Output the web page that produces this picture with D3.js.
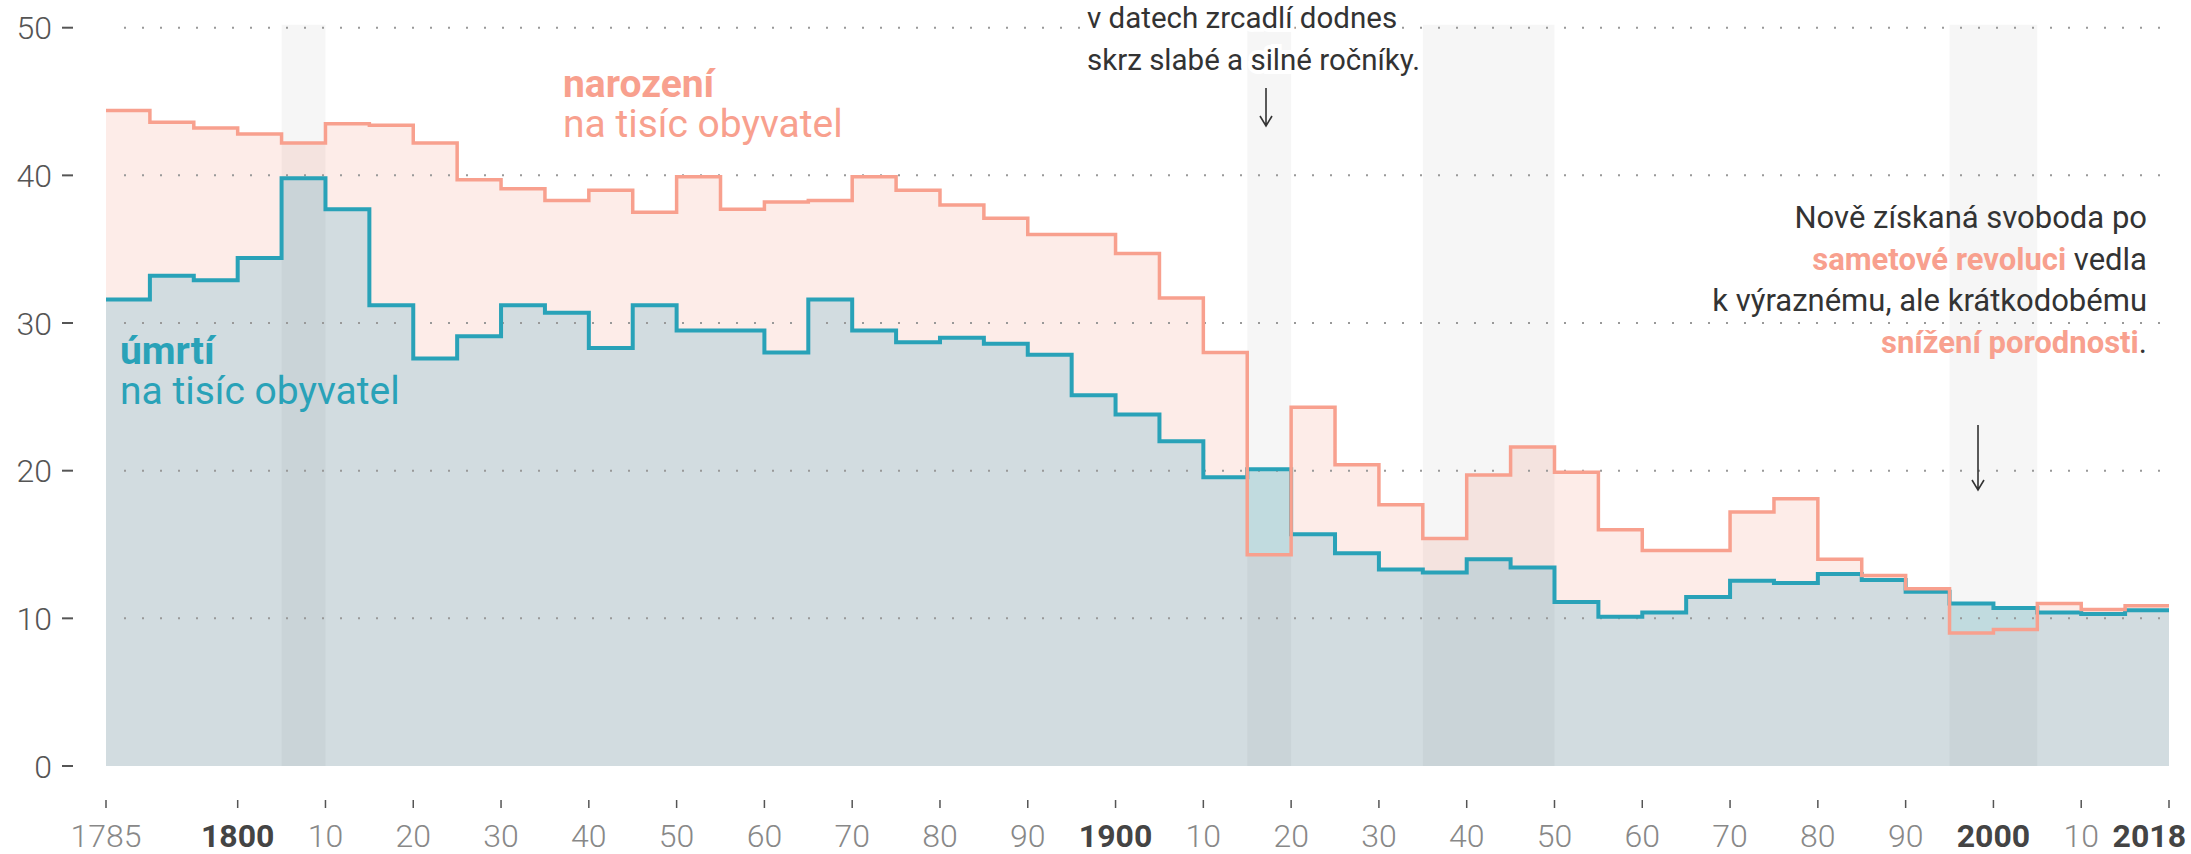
<!DOCTYPE html>
<html>
<head>
<meta charset="utf-8">
<script src="https://cdn.jsdelivr.net/npm/d3@7/dist/d3.min.js"></script>
<style>
  body { margin: 0; background: #fff; }
  svg { display: block; font-family: Roboto, "Open Sans", sans-serif; }
</style>
</head>
<body>
<svg width="2191" height="854"></svg>
<script>
// five-year periods, start year of each
var years = [1785, 1790, 1795, 1800, 1805, 1810, 1815, 1820, 1825, 1830,
             1835, 1840, 1845, 1850, 1855, 1860, 1865, 1870, 1875, 1880,
             1885, 1890, 1895, 1900, 1905, 1910, 1915, 1920, 1925, 1930,
             1935, 1940, 1945, 1950, 1955, 1960, 1965, 1970, 1975, 1980,
             1985, 1990, 1995, 2000, 2005, 2010, 2015];

// narození na tisíc obyvatel
var births = [44.4, 43.6, 43.2, 42.8, 42.2, 43.5, 43.4, 42.2, 39.7, 39.1,
              38.3, 39.0, 37.5, 39.9, 37.7, 38.2, 38.3, 39.9, 39.0, 38.0,
              37.1, 36.0, 36.0, 34.7, 31.7, 28.0, 14.3, 24.3, 20.4, 17.7,
              15.4, 19.7, 21.6, 19.9, 16.0, 14.6, 14.6, 17.2, 18.1, 14.0,
              12.9, 12.0, 9.0, 9.25, 11.0, 10.6, 10.85];

// úmrtí na tisíc obyvatel
var deaths = [31.6, 33.2, 32.9, 34.4, 39.8, 37.7, 31.2, 27.6, 29.1, 31.2,
              30.7, 28.3, 31.2, 29.5, 29.5, 28.0, 31.6, 29.5, 28.7, 29.0,
              28.6, 27.85, 25.1, 23.8, 22.0, 19.55, 20.1, 15.7, 14.4, 13.3,
              13.1, 14.0, 13.45, 11.1, 10.1, 10.4, 11.45, 12.55, 12.4, 13.0,
              12.6, 11.8, 11.0, 10.7, 10.4, 10.3, 10.55];

// highlighted periods (gray bands)
var bands = [[1805, 1810], [1915, 1920], [1935, 1950], [1995, 2005]];

var yTicks = [0, 10, 20, 30, 40, 50];
var gridTicks = [10, 20, 30, 40, 50];
var xTicks = [1785, 1800, 1810, 1820, 1830, 1840, 1850, 1860, 1870, 1880, 1890,
              1900, 1910, 1920, 1930, 1940, 1950, 1960, 1970, 1980, 1990,
              2000, 2010, 2020];
var xTickLabels = ["1785", "1800", "10", "20", "30", "40", "50", "60", "70", "80", "90",
                   "1900", "10", "20", "30", "40", "50", "60", "70", "80", "90",
                   "2000", "10", "2018"];
var boldLabels = ["1800", "1900", "2000", "2018"];

var salmon = "#f8a08e",
    teal = "#29a2b8";

var svg = d3.select("svg");
var endYear = years[years.length - 1] + 5;

var x = d3.scaleLinear().domain([years[0], endYear]).range([106, 2169]);
var y = d3.scaleLinear().domain([0, 50]).range([766, 27.7]);

var rows = years.map(function(yr, i) {
    return { year: yr, b: births[i], d: deaths[i] };
});
// closing point so the last step gets its width
rows.push({ year: endYear, b: births[births.length - 1], d: deaths[deaths.length - 1] });

function areaOf(acc) {
    return d3.area()
        .curve(d3.curveStepAfter)
        .x(function(d) { return x(d.year); })
        .y0(y(0))
        .y1(function(d) { return y(acc(d)); });
}
function lineOf(acc) {
    return d3.line()
        .curve(d3.curveStepAfter)
        .x(function(d) { return x(d.year); })
        .y(function(d) { return y(acc(d)); });
}

var g = svg.append("g");

g.append("path").datum(rows)
    .attr("d", areaOf(function(d) { return d.b; }))
    .attr("fill", "#fdece8");
g.append("path").datum(rows)
    .attr("d", areaOf(function(d) { return d.d; }))
    .attr("fill", "#c9e3e8");
g.append("path").datum(rows)
    .attr("d", areaOf(function(d) { return Math.min(d.b, d.d); }))
    .attr("fill", "#d2dce0");

// gray bands
g.selectAll("rect.band")
    .data(bands)
    .enter().append("rect")
    .attr("class", "band")
    .attr("x", function(d) { return x(d[0]); })
    .attr("width", function(d) { return x(d[1]) - x(d[0]); })
    .attr("y", y(50) - 3)
    .attr("height", y(0) - y(50) + 3)
    .attr("fill", "#000")
    .attr("fill-opacity", 0.035);

// dotted grid
g.selectAll("line.grid")
    .data(gridTicks)
    .enter().append("line")
    .attr("class", "grid")
    .attr("x1", 124)
    .attr("x2", 2160)
    .attr("y1", function(d) { return y(d); })
    .attr("y2", function(d) { return y(d); })
    .attr("stroke", "#999")
    .attr("stroke-width", 2)
    .attr("stroke-dasharray", "2,16");

g.append("path").datum(rows)
    .attr("d", lineOf(function(d) { return d.d; }))
    .attr("fill", "none")
    .attr("stroke", teal)
    .attr("stroke-width", 4);
g.append("path").datum(rows)
    .attr("d", lineOf(function(d) { return d.b; }))
    .attr("fill", "none")
    .attr("stroke", salmon)
    .attr("stroke-width", 3.5);

// y axis
var yAxis = svg.append("g");
yAxis.selectAll("text")
    .data(yTicks)
    .enter().append("text")
    .attr("x", 52)
    .attr("y", function(d) { return y(d); })
    .attr("dy", "0.36em")
    .attr("text-anchor", "end")
    .attr("fill", "#555")
    .style("font-size", "32px")
    .style("font-weight", 300)
    .text(function(d) { return d; });
yAxis.selectAll("line")
    .data(yTicks)
    .enter().append("line")
    .attr("x1", 62).attr("x2", 73)
    .attr("y1", function(d) { return y(d); })
    .attr("y2", function(d) { return y(d); })
    .attr("stroke", "#555")
    .attr("stroke-width", 2);

// x axis
var xAxis = svg.append("g");
xAxis.selectAll("line")
    .data(xTicks)
    .enter().append("line")
    .attr("x1", function(d) { return x(d); })
    .attr("x2", function(d) { return x(d); })
    .attr("y1", 800).attr("y2", 808)
    .attr("stroke", "#555")
    .attr("stroke-width", 1.5);
xAxis.selectAll("text")
    .data(xTicks)
    .enter().append("text")
    .attr("x", function(d, i) { return i == xTicks.length - 1 ? 2186 : x(d); })
    .attr("y", 847)
    .attr("text-anchor", function(d, i) { return i == xTicks.length - 1 ? "end" : "middle"; })
    .attr("fill", function(d, i) { return boldLabels.indexOf(xTickLabels[i]) >= 0 ? "#444" : "#888"; })
    .style("font-size", "32px")
    .style("font-weight", function(d, i) { return boldLabels.indexOf(xTickLabels[i]) >= 0 ? 700 : 300; })
    .text(function(d, i) { return xTickLabels[i]; });

// series labels
function label(px, py, color, title) {
    var t = svg.append("g").attr("fill", color).style("font-size", "39px");
    t.append("text").attr("x", px).attr("y", py)
        .style("font-weight", 700).text(title);
    t.append("text").attr("x", px).attr("y", py + 40)
        .style("font-weight", 400).text("na tisíc obyvatel");
}
label(563, 97, salmon, "narození");
label(120, 364, teal, "úmrtí");

// annotations
var note1 = svg.append("g")
    .attr("fill", "#333")
    .style("font-size", "29.5px")
    .style("font-weight", 400);
note1.selectAll("text")
    .data(["v datech zrcadlí dodnes", "skrz slabé a silné ročníky."])
    .enter().append("text")
    .attr("x", 1087)
    .attr("y", function(d, i) { return 28 + i * 42; })
    .attr("stroke", "#fff")
    .attr("stroke-width", 8)
    .attr("paint-order", "stroke")
    .text(function(d) { return d; });

var note2 = svg.append("g")
    .attr("fill", "#333")
    .attr("text-anchor", "end")
    .style("font-size", "31px")
    .style("font-weight", 400);
var noteLines = [
    [["Nově získaná svoboda po", false]],
    [["sametové revoluci", true], [" vedla", false]],
    [["k výraznému, ale krátkodobému", false]],
    [["snížení porodnosti", true], [".", false]]
];
noteLines.forEach(function(parts, i) {
    var t = note2.append("text").attr("x", 2147).attr("y", 228 + i * 41.5);
    parts.forEach(function(p) {
        t.append("tspan")
            .attr("fill", p[1] ? salmon : "#333")
            .style("font-weight", p[1] ? 700 : 400)
            .text(p[0]);
    });
});

// arrows
function arrow(px, y1, y2) {
    svg.append("path")
        .attr("d", "M" + px + "," + y1 + "L" + px + "," + y2 +
                   "M" + (px - 6) + "," + (y2 - 10) + "L" + px + "," + y2 + "L" + (px + 6) + "," + (y2 - 10))
        .attr("fill", "none")
        .attr("stroke", "#333")
        .attr("stroke-width", 1.6);
}
arrow(1266, 88, 126);
arrow(1978, 425, 490);
</script>
</body>
</html>
